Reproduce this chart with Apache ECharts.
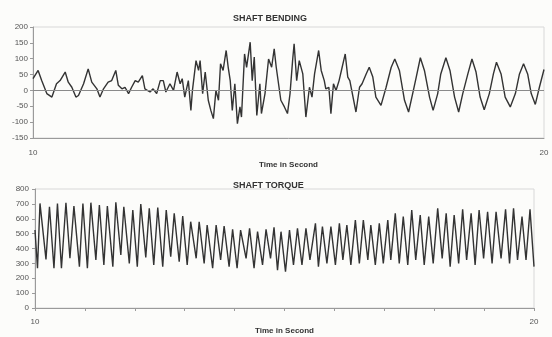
<!DOCTYPE html>
<html>
<head>
<meta charset="utf-8">
<script src="https://cdn.jsdelivr.net/npm/echarts@6/dist/echarts.min.js"></script>
<style>
  html, body { margin: 0; padding: 0; background: #fcfcfa; }
  #chart { width: 552px; height: 337px; }
</style>
</head>
<body>
<div id="chart"></div>
<script>
// shaft bending (time in s, value)
const bendingTime = [
  10.00, 10.10, 10.17, 10.27, 10.37, 10.40, 10.46, 10.53, 10.63, 10.69,
  10.76, 10.84, 10.89, 10.99, 11.08, 11.15, 11.25, 11.31, 11.38, 11.47,
  11.54, 11.62, 11.67, 11.74, 11.80, 11.87, 11.93, 12.00, 12.06, 12.14,
  12.19, 12.29, 12.35, 12.42, 12.49, 12.55, 12.60, 12.68, 12.75, 12.82,
  12.88, 12.92, 12.97, 13.04, 13.09, 13.12, 13.19, 13.24, 13.27, 13.32,
  13.37, 13.43, 13.48, 13.53, 13.58, 13.63, 13.67, 13.72, 13.78, 13.82,
  13.86, 13.90, 13.95, 14.00, 14.05, 14.08, 14.14, 14.18, 14.25, 14.29,
  14.33, 14.38, 14.44, 14.47, 14.54, 14.61, 14.67, 14.72,
  14.76, 14.85, 14.92, 14.98, 15.03, 15.08, 15.11, 15.16, 15.21, 15.28,
  15.34, 15.41, 15.46, 15.51, 15.59, 15.64, 15.70, 15.73, 15.79, 15.83,
  15.88, 15.93, 15.99, 16.05, 16.11, 16.16, 16.20, 16.32, 16.39, 16.44,
  16.52, 16.58, 16.65, 16.71, 16.81, 16.91, 17.01, 17.08, 17.17, 17.27,
  17.35, 17.43, 17.50, 17.58, 17.66, 17.76, 17.83, 17.92, 17.98, 18.08,
  18.16, 18.25, 18.33, 18.41, 18.51, 18.59, 18.67, 18.75, 18.83, 18.93,
  19.01, 19.07, 19.16, 19.24, 19.34, 19.44, 19.52, 19.60, 19.68, 19.75,
  19.83, 19.91, 20.00
];
const bendingValue = [
  37, 63, 31, -10, -21, -16, 21, 31, 58, 26,
  10, -21, -16, 21, 68, 26, 5, -21, 5, 26,
  31, 63, 16, 5, 10, -10, 10, 31, 26, 47,
  5, -5, 5, -10, 31, 31, -5, 21, 0, 58,
  21, 37, -21, 31, -63, 0, 94, 63, 94, -10,
  58, -31, -63, -89, 0, -31, 84, 63, 126, 73,
  31, -63, 21, -105, -52, -84, 115, 73, 152, 31,
  105, -79, 21, -73, -10, 99, 73, 131,
  73, -31, -52, -73, -10, 94, 147, 31, 94, 52,
  -84, 10, -21, 52, 126, 63, 31, 5, 10, -73,
  21, 0, 31, 73, 115, 42, 31, -68, 10, 21,
  52, 73, 42, -21, -47, 10, 73, 99, 63, -31,
  -68, -10, 42, 103, 63, -21, -63, -10, 52, 103,
  63, -21, -68, -10, 52, 99, 58, -21, -61, -10,
  52, 89, 52, -21, -52, -10, 52, 84, 52, -10,
  -44, 10, 66
];

// shaft torque, peaks and troughs
const torqueTime = [
  10.00, 10.05, 10.10, 10.22, 10.29, 10.38, 10.45, 10.53, 10.62, 10.70,
  10.78, 10.89, 10.96, 11.05, 11.12, 11.22, 11.29, 11.38, 11.45, 11.56,
  11.62, 11.72, 11.78, 11.89, 11.96, 12.05, 12.12, 12.22, 12.29, 12.38,
  12.46, 12.56, 12.63, 12.72, 12.79, 12.89, 12.96, 13.05, 13.12, 13.23,
  13.29, 13.39, 13.45, 13.56, 13.63, 13.72, 13.79, 13.89, 13.96, 14.05,
  14.12, 14.23, 14.30, 14.39, 14.46, 14.56, 14.63, 14.72, 14.79,
  14.86, 14.93, 15.02, 15.10, 15.18, 15.26, 15.35, 15.43, 15.51, 15.62,
  15.68, 15.76, 15.85, 15.93, 16.02, 16.10, 16.17, 16.25, 16.33, 16.42,
  16.50, 16.58, 16.67, 16.73, 16.82, 16.90, 16.98, 17.07, 17.13, 17.22,
  17.30, 17.38, 17.47, 17.55, 17.63, 17.72, 17.80, 17.89, 17.98, 18.07,
  18.16, 18.24, 18.32, 18.40, 18.49, 18.57, 18.65, 18.74, 18.82, 18.90,
  18.99, 19.07, 19.16, 19.24, 19.34, 19.43, 19.51, 19.59, 19.67, 19.76,
  19.84, 19.92, 20.00
];
const torqueValue = [
  524, 267, 703, 327, 681, 267, 703, 267, 708, 334,
  685, 278, 703, 267, 708, 323, 692, 289, 685, 278,
  710, 356, 681, 300, 659, 278, 699, 340, 670, 289,
  676, 278, 659, 345, 636, 311, 618, 289, 580, 334,
  580, 300, 558, 267, 558, 323, 551, 278, 529, 267,
  524, 334, 535, 267, 513, 289, 529, 334, 542,
  255, 513, 244, 524, 289, 535, 289, 535, 323, 569,
  278, 547, 300, 547, 289, 569, 323, 558, 289, 591,
  300, 591, 323, 558, 289, 569, 300, 591, 323, 636,
  300, 614, 289, 659, 323, 625, 289, 614, 300, 670,
  334, 636, 278, 625, 300, 663, 323, 636, 289, 659,
  334, 647, 300, 647, 334, 663, 300, 670, 323, 614,
  323, 663, 278
];

const edgeLabels = [10, 20];

const pair = (ts, vs) => ts.map((t, i) => [t, vs[i]]);
const textFont = 'Liberation Sans, Arial, sans-serif';
const lineColor = '#333333';
const axisGray = '#9a9a9a';

const chart = echarts.init(document.getElementById('chart'));

function edgeOnly(v) {
  return edgeLabels.indexOf(v) >= 0 ? String(v) : '';
}

const option = {
  backgroundColor: '#fcfcfa',
  animation: false,
  textStyle: { fontFamily: textFont },
  title: [
    {
      text: 'SHAFT BENDING',
      left: 228,
      top: 9,
      textStyle: { fontSize: 9, fontWeight: 'bold', color: '#333' }
    },
    {
      text: 'SHAFT TORQUE',
      left: 228,
      top: 176,
      textStyle: { fontSize: 9, fontWeight: 'bold', color: '#333' }
    }
  ],
  grid: [
    { left: 33, right: 8, top: 27, height: 111, show: true, borderColor: '#d8d8d8', borderWidth: 1 },
    { left: 35, right: 18, top: 189, height: 119, show: true, borderColor: '#d8d8d8', borderWidth: 1 }
  ],
  xAxis: [
    {
      gridIndex: 0,
      type: 'value',
      min: 10,
      max: 20,
      interval: 10,
      axisLine: { onZero: false, lineStyle: { color: axisGray } },
      axisTick: { show: false },
      splitLine: { show: false },
      axisLabel: { fontSize: 8, color: '#555', margin: 11, formatter: edgeOnly },
      name: 'Time in Second',
      nameLocation: 'middle',
      nameGap: 23,
      nameTextStyle: { fontSize: 8, fontWeight: 'bold', color: '#333' }
    },
    {
      gridIndex: 1,
      type: 'value',
      min: 10,
      max: 20,
      interval: 1,
      axisLine: { onZero: false, lineStyle: { color: axisGray } },
      axisTick: { show: true, length: 3, inside: false, lineStyle: { color: axisGray } },
      splitLine: { show: false },
      axisLabel: { fontSize: 8, color: '#555', margin: 10, formatter: edgeOnly },
      name: 'Time in Second',
      nameLocation: 'middle',
      nameGap: 16,
      nameTextStyle: { fontSize: 8, fontWeight: 'bold', color: '#333' }
    }
  ],
  yAxis: [
    {
      gridIndex: 0,
      type: 'value',
      min: -150,
      max: 200,
      interval: 50,
      axisLine: { show: true, lineStyle: { color: axisGray } },
      axisTick: { show: true, length: 3, lineStyle: { color: axisGray } },
      splitLine: { show: false },
      axisLabel: { fontSize: 8, color: '#555', margin: 5 }
    },
    {
      gridIndex: 1,
      type: 'value',
      min: 0,
      max: 800,
      interval: 100,
      axisLine: { show: true, lineStyle: { color: axisGray } },
      axisTick: { show: true, length: 3, lineStyle: { color: axisGray } },
      splitLine: { show: false },
      axisLabel: { fontSize: 8, color: '#555', margin: 6 }
    }
  ],
  series: [
    {
      name: 'Shaft Bending',
      type: 'line',
      xAxisIndex: 0,
      yAxisIndex: 0,
      showSymbol: false,
      data: pair(bendingTime, bendingValue),
      lineStyle: { color: lineColor, width: 1.4 },
      markLine: {
        silent: true,
        symbol: 'none',
        label: { show: false },
        lineStyle: { color: '#8a8a8a', width: 1, type: 'solid' },
        data: [{ yAxis: 0 }]
      }
    },
    {
      name: 'Shaft Torque',
      type: 'line',
      xAxisIndex: 1,
      yAxisIndex: 1,
      showSymbol: false,
      data: pair(torqueTime, torqueValue),
      lineStyle: { color: lineColor, width: 1.4 }
    }
  ]
};

chart.setOption(option);
</script>
</body>
</html>
